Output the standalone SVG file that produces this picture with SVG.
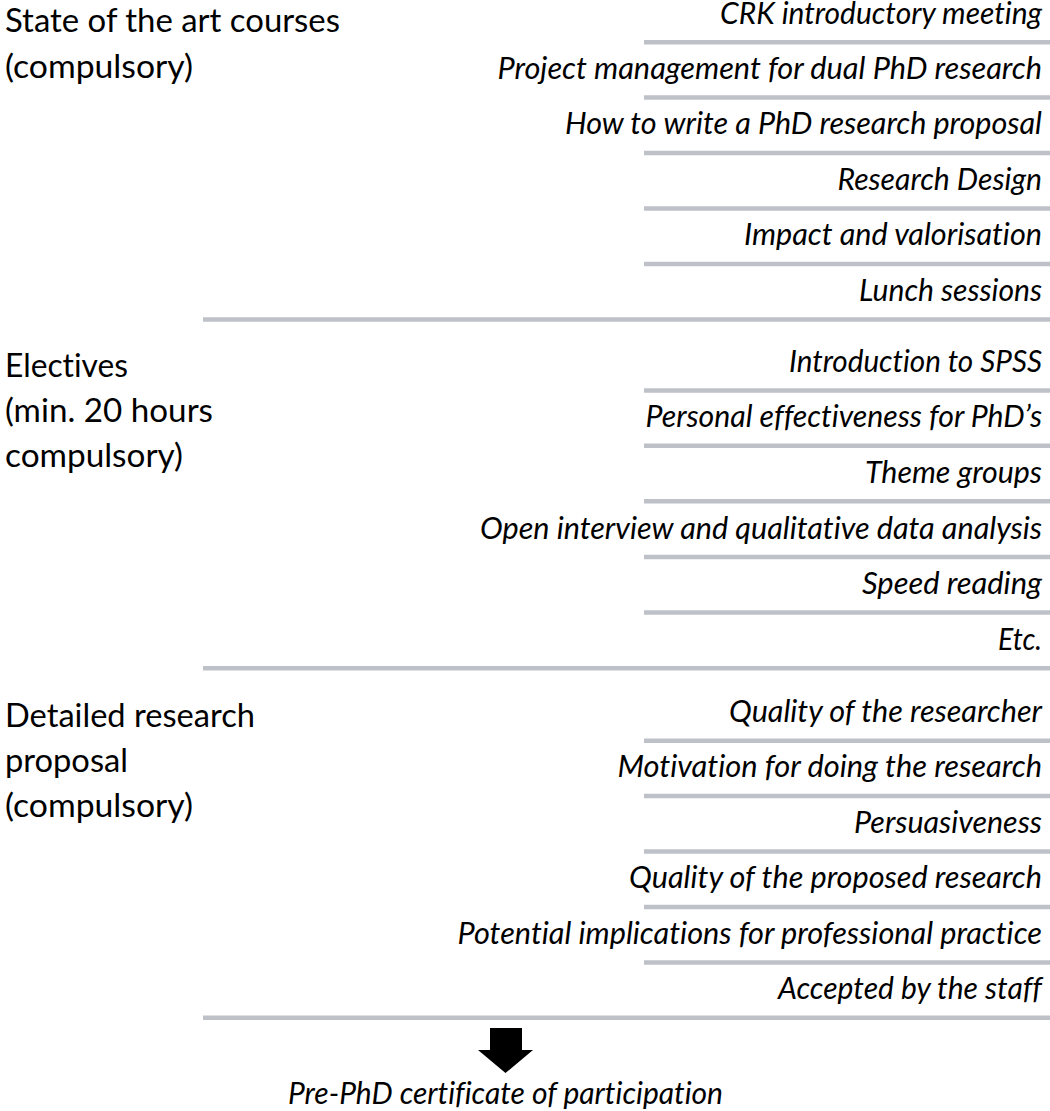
<svg xmlns="http://www.w3.org/2000/svg" width="1050" height="1111" viewBox="0 0 1050 1111">
  <style>
    .label { font-family: Lato, "Open Sans", "Liberation Sans", sans-serif; font-size: 33px; fill: #000; font-variant-ligatures: none; }
    .item { font-family: Lato, "Open Sans", "Liberation Sans", sans-serif; font-style: italic; font-size: 30px; fill: #000; font-variant-ligatures: none; }
    .rule { stroke: #BEC2C8; stroke-width: 4.5; }
  </style>
  <rect width="1050" height="1111" fill="#ffffff"/>

  <!-- Section 1: state of the art courses -->
  <g id="section-state-of-the-art">
    <text class="label" x="5" y="32" textLength="335" lengthAdjust="spacingAndGlyphs">State of the art courses</text>
    <text class="label" x="5" y="78" textLength="188" lengthAdjust="spacingAndGlyphs">(compulsory)</text>
  </g>
  <g id="item-crk"><text class="item" x="720" y="24" textLength="322" lengthAdjust="spacingAndGlyphs">CRK introductory meeting</text><line class="rule" x1="644" y1="42.3" x2="1050" y2="42.3"/></g>
  <g id="item-project-management"><text class="item" x="497.5" y="78.5" textLength="544.5" lengthAdjust="spacingAndGlyphs">Project management for dual PhD research</text><line class="rule" x1="644" y1="97.5" x2="1050" y2="97.5"/></g>
  <g id="item-proposal-writing"><text class="item" x="565" y="134" textLength="477" lengthAdjust="spacingAndGlyphs">How to write a PhD research proposal</text><line class="rule" x1="644" y1="153" x2="1050" y2="153"/></g>
  <g id="item-research-design"><text class="item" x="837.5" y="189.5" textLength="204.5" lengthAdjust="spacingAndGlyphs">Research Design</text><line class="rule" x1="644" y1="208.5" x2="1050" y2="208.5"/></g>
  <g id="item-impact"><text class="item" x="744" y="245" textLength="298" lengthAdjust="spacingAndGlyphs">Impact and valorisation</text><line class="rule" x1="644" y1="264" x2="1050" y2="264"/></g>
  <g id="item-lunch"><text class="item" x="859" y="300.5" textLength="183" lengthAdjust="spacingAndGlyphs">Lunch sessions</text><line class="rule" x1="203" y1="319.5" x2="1050" y2="319.5"/></g>

  <!-- Section 2: electives -->
  <g id="section-electives">
    <text class="label" x="5" y="377" textLength="123" lengthAdjust="spacingAndGlyphs">Electives</text>
    <text class="label" x="5" y="422" textLength="208" lengthAdjust="spacingAndGlyphs">(min. 20 hours</text>
    <text class="label" x="5" y="467" textLength="178" lengthAdjust="spacingAndGlyphs">compulsory)</text>
  </g>
  <g id="item-spss"><text class="item" x="789" y="372" textLength="253" lengthAdjust="spacingAndGlyphs">Introduction to SPSS</text><line class="rule" x1="644" y1="390.5" x2="1050" y2="390.5"/></g>
  <g id="item-effectiveness"><text class="item" x="645.5" y="427" textLength="396.5" lengthAdjust="spacingAndGlyphs">Personal effectiveness for PhD’s</text><line class="rule" x1="644" y1="445.8" x2="1050" y2="445.8"/></g>
  <g id="item-theme-groups"><text class="item" x="865" y="482.5" textLength="177" lengthAdjust="spacingAndGlyphs">Theme groups</text><line class="rule" x1="644" y1="501.3" x2="1050" y2="501.3"/></g>
  <g id="item-interview"><text class="item" x="480" y="538.5" textLength="562" lengthAdjust="spacingAndGlyphs">Open interview and qualitative data analysis</text><line class="rule" x1="644" y1="557" x2="1050" y2="557"/></g>
  <g id="item-speed-reading"><text class="item" x="862" y="594" textLength="180" lengthAdjust="spacingAndGlyphs">Speed reading</text><line class="rule" x1="644" y1="612.6" x2="1050" y2="612.6"/></g>
  <g id="item-etc"><text class="item" x="998" y="649.5" textLength="44" lengthAdjust="spacingAndGlyphs">Etc.</text><line class="rule" x1="203" y1="668.3" x2="1050" y2="668.3"/></g>

  <!-- Section 3: detailed research proposal -->
  <g id="section-proposal">
    <text class="label" x="5" y="727" textLength="250" lengthAdjust="spacingAndGlyphs">Detailed research</text>
    <text class="label" x="5" y="772" textLength="123" lengthAdjust="spacingAndGlyphs">proposal</text>
    <text class="label" x="5" y="817" textLength="188" lengthAdjust="spacingAndGlyphs">(compulsory)</text>
  </g>
  <g id="item-researcher"><text class="item" x="729" y="722" textLength="313" lengthAdjust="spacingAndGlyphs">Quality of the researcher</text><line class="rule" x1="644" y1="740.8" x2="1050" y2="740.8"/></g>
  <g id="item-motivation"><text class="item" x="617.5" y="777" textLength="424.5" lengthAdjust="spacingAndGlyphs">Motivation for doing the research</text><line class="rule" x1="644" y1="796" x2="1050" y2="796"/></g>
  <g id="item-persuasiveness"><text class="item" x="854" y="832.5" textLength="188" lengthAdjust="spacingAndGlyphs">Persuasiveness</text><line class="rule" x1="644" y1="851.4" x2="1050" y2="851.4"/></g>
  <g id="item-proposed-research"><text class="item" x="629" y="888" textLength="413" lengthAdjust="spacingAndGlyphs">Quality of the proposed research</text><line class="rule" x1="644" y1="907" x2="1050" y2="907"/></g>
  <g id="item-implications"><text class="item" x="457.5" y="944" textLength="584.5" lengthAdjust="spacingAndGlyphs">Potential implications for professional practice</text><line class="rule" x1="644" y1="962.6" x2="1050" y2="962.6"/></g>
  <g id="item-accepted"><text class="item" x="778" y="999" textLength="264" lengthAdjust="spacingAndGlyphs">Accepted by the staff</text><line class="rule" x1="203" y1="1017.8" x2="1050" y2="1017.8"/></g>

  <!-- Outcome arrow -->
  <g id="connectors">
    <polygon points="490,1028 522,1028 522,1050 533,1050 505.5,1073 478,1050 490,1050" fill="#000"/>
  </g>

  <!-- Outcome -->
  <g id="outcome-certificate">
    <text class="item" x="288" y="1104" textLength="435" lengthAdjust="spacingAndGlyphs">Pre-PhD certificate of participation</text>
  </g>
</svg>
